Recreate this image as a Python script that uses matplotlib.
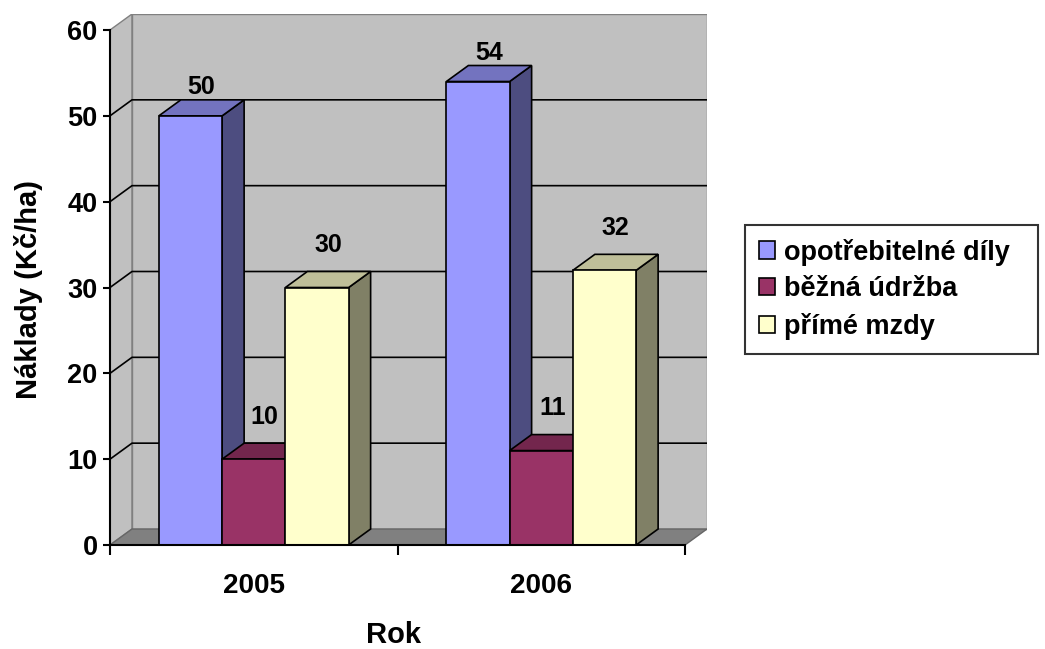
import matplotlib
matplotlib.use("Agg")
import matplotlib.pyplot as plt
from matplotlib.patches import Polygon, Patch

plt.rcParams['font.family'] = ['Liberation Sans', 'DejaVu Sans']
plt.rcParams['font.weight'] = 'bold'

# data
years = ['2005', '2006']
series = ['opotřebitelné díly', 'běžná údržba', 'přímé mzdy']
values = [[50, 54], [10, 11], [30, 32]]
front = ['#9999FF', '#993366', '#FFFFCC']
top = ['#7373BF', '#73264D', '#BFBF99']
side = ['#4D4D80', '#4D1A33', '#808066']
label_off = [9, 19, 19]  # label gap above bar top, points

# fake 3d depth (data units)
dx = 22 / 287.5
dy = 16 / 8.583
ymax = 60
bw = 0.22

fig = plt.figure(figsize=(10.45, 6.49), dpi=100)
ax = fig.add_axes([110 / 1045, 104 / 649, (707 - 110) / 1045, (545 - 14) / 649])
ax.set_xlim(0, 2 + dx)
ax.set_ylim(0, ymax + dy)
ax.patch.set_visible(False)

n = len(years)
# walls + floor
ax.add_patch(Polygon([(0, 0), (dx, dy), (dx, ymax + dy), (0, ymax)],
                     facecolor='#C0C0C0', edgecolor='#808080', lw=1, zorder=0))
ax.add_patch(Polygon([(dx, dy), (n + dx, dy), (n + dx, ymax + dy), (dx, ymax + dy)],
                     facecolor='#C0C0C0', edgecolor='#808080', lw=1, zorder=0))
ax.add_patch(Polygon([(0, 0), (n, 0), (n + dx, dy), (dx, dy)],
                     facecolor='#808080', edgecolor='#666666', lw=1, zorder=0))
for v in range(10, ymax, 10):
    ax.plot([0, dx, n + dx], [v, v + dy, v + dy], color='black', lw=1.2, zorder=1)

# bars
for g in range(n):
    x0 = g + 0.5 - bw * len(series) / 2
    for i in range(len(series)):
        xl = x0 + i * bw
        xr = xl + bw
        v = values[i][g]
        kw = dict(edgecolor='black', lw=1.2, zorder=3, joinstyle='miter')
        ax.add_patch(Polygon([(xr, 0), (xr + dx, dy), (xr + dx, v + dy), (xr, v)],
                             facecolor=side[i], **kw))
        ax.add_patch(Polygon([(xl, v), (xr, v), (xr + dx, v + dy), (xl + dx, v + dy)],
                             facecolor=top[i], **kw))
        ax.add_patch(Polygon([(xl, 0), (xr, 0), (xr, v), (xl, v)],
                             facecolor=front[i], **kw))
        ax.annotate(str(v), ((xl + xr) / 2 + dx / 2, v + dy), xytext=(0, label_off[i]),
                    textcoords='offset points', ha='center', va='center',
                    fontsize=18, fontweight='bold', zorder=5)

# axes
for s in ['top', 'right']:
    ax.spines[s].set_visible(False)
ax.spines['left'].set_bounds(0, ymax)
ax.spines['bottom'].set_bounds(0, n)
ax.spines['left'].set_linewidth(1.5)
ax.spines['bottom'].set_linewidth(1.5)
ax.spines['left'].set_zorder(4)
ax.spines['bottom'].set_zorder(4)
ax.set_yticks(range(0, ymax + 1, 10))
ax.tick_params(axis='y', length=5, width=1.5, pad=4, labelsize=19.5)
ax.set_xticks(range(n + 1))
ax.set_xticklabels([])
ax.tick_params(axis='x', which='major', length=7, width=1.5)
ax.set_xticks([g + 0.5 for g in range(n)], minor=True)
ax.set_xticklabels(years, minor=True)
ax.tick_params(axis='x', which='minor', length=0, pad=20, labelsize=20)
for lab in ax.get_yticklabels() + ax.get_xticklabels(minor=True):
    lab.set_fontweight('bold')

fig.text(29 / 1045, 1 - 289 / 649, 'Náklady (Kč/ha)', rotation=90, ha='center',
         va='center', fontsize=21, fontweight='bold')
fig.text(394 / 1045, 1 - 635 / 649, 'Rok', ha='center', va='center',
         fontsize=21, fontweight='bold')

handles = [Patch(facecolor=front[i], edgecolor='black', lw=1.2) for i in range(len(series))]
leg = fig.legend(handles, series, loc='upper left', mode='expand',
                 bbox_to_anchor=(745 / 1045, 1 - 345 / 649, (1038 - 745) / 1045, 120 / 649),
                 frameon=True, fancybox=False, edgecolor='black', borderaxespad=0,
                 prop={'size': 19.5, 'weight': 'bold'}, handlelength=0.6, handleheight=0.6,
                 handletextpad=0.35, labelspacing=0.4, borderpad=0.5)
leg.get_frame().set_linewidth(1.5)

fig.savefig('out.png', dpi=100)
